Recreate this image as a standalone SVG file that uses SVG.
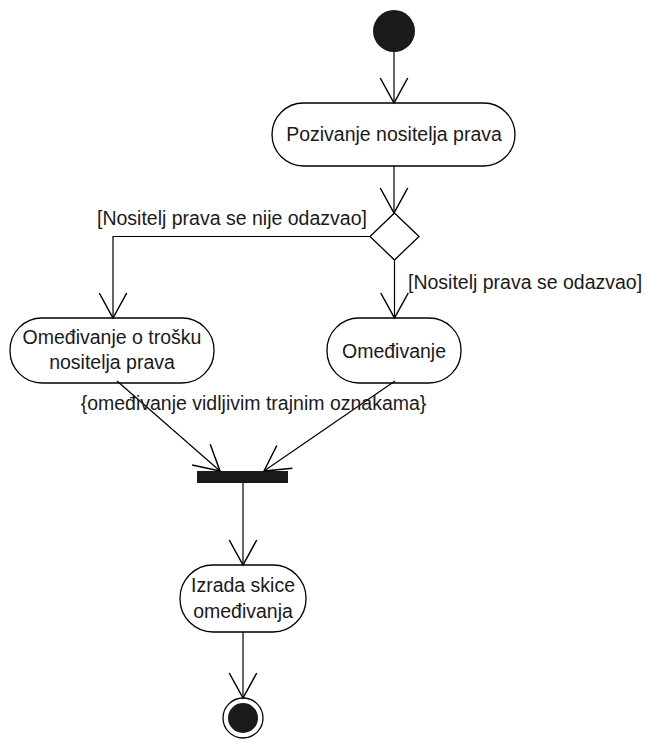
<svg xmlns="http://www.w3.org/2000/svg" width="647" height="742" viewBox="0 0 647 742">
<style>
.node{fill:#fff;stroke:#000;stroke-width:1.3}
.t{font-family:"Liberation Sans",Arial,sans-serif;font-size:19.5px;fill:#1a1a1a;text-anchor:middle}
.l{font-family:"Liberation Sans",Arial,sans-serif;font-size:19.5px;fill:#1a1a1a}
.c{fill:none;stroke:#000;stroke-width:1.2;marker-end:url(#open)}
</style>
<defs>
<marker id="open" markerUnits="userSpaceOnUse" markerWidth="30" markerHeight="30" viewBox="-22 -12 24 24" refX="0" refY="0" orient="auto">
<path d="M-20,-11 L0,0 L-20,11" fill="none" stroke="#000" stroke-width="1.2"/>
</marker>
</defs>
<g id="start"><circle cx="394" cy="31" r="21" fill="#1a1a1a"/></g>
<g id="n1"><rect class="node" x="272" y="103" width="243" height="63" rx="31.5"/><text class="t" x="394" y="141">Pozivanje nositelja prava</text></g>
<g id="decision"><polygon class="node" points="394.5,213 419,236.5 394.5,260 370,236.5" stroke-width="2"/></g>
<g id="n2"><rect class="node" x="10" y="318" width="204" height="65" rx="32"/><text class="t" x="112" y="344">Omeđivanje o trošku</text><text class="t" x="112" y="369">nositelja prava</text></g>
<g id="n3"><rect class="node" x="327" y="318" width="134" height="65" rx="32"/><text class="t" x="394" y="358">Omeđivanje</text></g>
<g id="fork"><rect x="197" y="471" width="91" height="12" fill="#1a1a1a"/></g>
<g id="n4"><rect class="node" x="180" y="565" width="126" height="67" rx="33"/><text class="t" x="243" y="592">Izrada skice</text><text class="t" x="243" y="618">omeđivanja</text></g>
<g id="end"><circle cx="243" cy="718" r="20" fill="#fff" stroke="#000" stroke-width="1.3"/><circle cx="243" cy="718" r="15" fill="#1a1a1a"/></g>
<g id="connectors">
<line class="c" x1="394" y1="52" x2="394" y2="103"/>
<line class="c" x1="394" y1="166" x2="394" y2="213"/>
<polyline class="c" points="370,236.5 113,236.5 113,318"/>
<line class="c" x1="394.5" y1="260" x2="394.5" y2="318"/>
<line class="c" x1="117" y1="381" x2="220" y2="471"/>
<line class="c" x1="395" y1="381" x2="264" y2="471"/>
<line class="c" x1="243" y1="483" x2="243" y2="565"/>
<line class="c" x1="243" y1="632" x2="243" y2="698"/>
</g>
<g id="labels">
<text class="l" x="97" y="225">[Nositelj prava se nije odazvao]</text>
<text class="l" x="408" y="289">[Nositelj prava se odazvao]</text>
<text class="t" x="253.5" y="410">{omeđivanje vidljivim trajnim oznakama}</text>
</g>
</svg>
